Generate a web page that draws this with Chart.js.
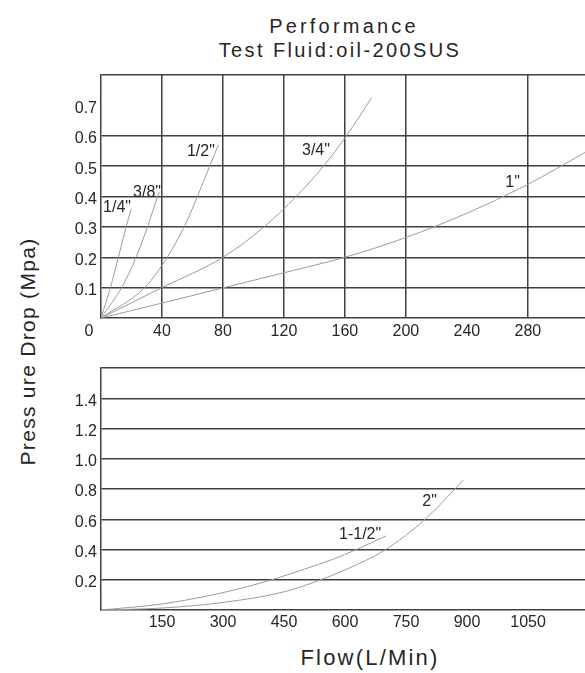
<!DOCTYPE html>
<html>
<head>
<meta charset="utf-8">
<script src="https://cdn.jsdelivr.net/npm/chart.js@4.4.1/dist/chart.umd.min.js"></script>
<style>
html,body{margin:0;padding:0;background:#fff;width:585px;height:673px;overflow:hidden}
.t{position:absolute;font-family:"Liberation Sans",Arial,sans-serif;color:#262626;text-align:center;white-space:nowrap}
canvas{position:absolute;left:0}
</style>
</head>
<body>
<div class="t" style="left:194px;top:16px;width:300px;font-size:20px;line-height:20px;letter-spacing:3.2px">Performance</div>
<div class="t" style="left:190px;top:40px;width:300px;font-size:20px;line-height:20px;letter-spacing:2.4px">Test Fluid:oil-200SUS</div>
<div class="t" style="left:-123px;top:341px;width:300px;height:21px;font-size:21px;line-height:21px;letter-spacing:1.3px;transform:rotate(-90deg)">Press ure Drop (Mpa)</div>
<div class="t" style="left:220px;top:647px;width:300px;font-size:22px;line-height:22px;letter-spacing:2.2px">Flow(L/Min)</div>
<canvas id="c1" width="585" height="290" style="top:60px"></canvas>
<canvas id="c2" width="585" height="290" style="top:350px"></canvas>
<script>
// ---------- tick values / labels ----------
const topXTicks = [0, 40, 80, 120, 160, 200, 240, 280];
const topXGridShown = [40, 80, 120, 160, 200, 280];
const topYTicks = [0, 0.1, 0.2, 0.3, 0.4, 0.5, 0.6, 0.7, 0.8];
const topYLabels = ['', '0.1', '0.2', '0.3', '0.4', '0.5', '0.6', '0.7', ''];
const topYGridHidden = [0.7];
const bottomXTicks = [0, 150, 300, 450, 600, 750, 900, 1050];
const bottomXLabels = ['', '150', '300', '450', '600', '750', '900', '1050'];
const bottomYTicks = [0, 0.2, 0.4, 0.6, 0.8, 1.0, 1.2, 1.4, 1.6];
const bottomYLabels = ['', '0.2', '0.4', '0.6', '0.8', '1.0', '1.2', '1.4', ''];

// ---------- series (flow L/Min, pressure drop MPa) ----------
const seriesNames = ['1/4"', '3/8"', '1/2"', '3/4"', '1"'];
const flowQuarter   = [0, 6.2, 11.4, 16.5, 19.8];
const dropQuarter   = [0, 0.1, 0.2, 0.3, 0.36];
const flowThreeEighth = [0, 13.5, 23, 30.5, 37.1, 38.2];
const dropThreeEighth = [0, 0.1, 0.2, 0.3, 0.4, 0.415];
const flowHalf      = [0, 28.6, 43.5, 54.5, 63.3, 71.3, 77];
const dropHalf      = [0, 0.1, 0.2, 0.3, 0.4, 0.5, 0.57];
const flowThreeQuarter = [0, 40, 80, 107, 128, 146, 161, 177.5];
const dropThreeQuarter = [0, 0.1, 0.2, 0.3, 0.4, 0.5, 0.6, 0.725];
const flowOne       = [0, 40, 80, 120, 160, 200, 240, 280, 317.5];
const dropOne       = [0, 0.049, 0.099, 0.149, 0.2, 0.265, 0.345, 0.44, 0.545];

const bigNames = ['1-1/2"', '2"'];
const flowOneHalf   = [0, 150, 300, 420, 500, 570, 628, 701];
const dropOneHalf   = [0, 0.04, 0.115, 0.2, 0.27, 0.335, 0.4, 0.49];
const flowTwo       = [0, 150, 300, 450, 540, 600, 700, 797, 870, 891];
const dropTwo       = [0, 0.013, 0.05, 0.12, 0.2, 0.265, 0.4, 0.6, 0.8, 0.86];

// ---------- curve label anchors (data units) ----------
const topLabelText = ['1/4"', '3/8"', '1/2"', '3/4"', '1"'];
const topLabelFlow = [10.5, 30.2, 65.5, 141, 270];
const topLabelDrop = [0.364, 0.412, 0.547, 0.55, 0.446];
const bottomLabelText = ['1-1/2"', '2"'];
const bottomLabelFlow = [637, 808];
const bottomLabelDrop = [0.496, 0.714];

// ---------- helpers ----------
const FONT = '"Liberation Sans", Arial, sans-serif';
const TEXT = '#262626';
const GRID = '#404040';
const CURVE = '#9c9c9c';
const near = (a, b) => Math.abs(a - b) < 1e-6;
const pts = (xs, ys) => xs.map((x, i) => ({x: x, y: ys[i]}));
const curve = (name, xs, ys) => ({
  label: name, data: pts(xs, ys), borderColor: CURVE, borderWidth: 1,
  pointRadius: 0, fill: false, cubicInterpolationMode: 'monotone'
});

const curveLabels = {
  id: 'curveLabels',
  afterDatasetsDraw(chart, args, opts) {
    const ctx = chart.ctx, xs = chart.scales.x, ys = chart.scales.y;
    ctx.save();
    ctx.font = '16px ' + FONT;
    ctx.fillStyle = TEXT;
    ctx.textAlign = 'center';
    ctx.textBaseline = 'middle';
    opts.text.forEach((t, i) => {
      ctx.fillText(t, xs.getPixelForValue(opts.flow[i]), ys.getPixelForValue(opts.drop[i]));
    });
    ctx.restore();
  }
};

Chart.defaults.font.family = FONT;
Chart.defaults.color = TEXT;

// ---------- top chart ----------
new Chart(document.getElementById('c1'), {
  type: 'line',
  data: {
    datasets: [
      curve(seriesNames[0], flowQuarter, dropQuarter),
      curve(seriesNames[1], flowThreeEighth, dropThreeEighth),
      curve(seriesNames[2], flowHalf, dropHalf),
      curve(seriesNames[3], flowThreeQuarter, dropThreeQuarter),
      curve(seriesNames[4], flowOne, dropOne)
    ]
  },
  plugins: [curveLabels],
  options: {
    responsive: false, animation: false, devicePixelRatio: 1,
    layout: {padding: {top: 15, left: 0, right: 0, bottom: 0}},
    plugins: {
      legend: {display: false}, tooltip: {enabled: false},
      curveLabels: {text: topLabelText, flow: topLabelFlow, drop: topLabelDrop}
    },
    scales: {
      x: {
        type: 'linear', min: 0, max: 317.5,
        afterBuildTicks: s => { s.ticks = topXTicks.map(v => ({value: v})); },
        afterFit: s => { s.height = 32; },
        grid: {drawTicks: false, lineWidth: 1.5,
          color: c => (c.tick && topXGridShown.some(v => near(v, c.tick.value))) ? GRID : 'rgba(0,0,0,0)'},
        border: {display: true, color: GRID, width: 1.5},
        ticks: {padding: 4, autoSkip: false, maxRotation: 0, font: {size: 16}, color: TEXT,
          callback: v => { const i = topXTicks.findIndex(t => near(t, v)); return i < 0 ? '' : (v === 0 ? String(topXTicks[i]) + '\u2003\u2002' : String(topXTicks[i])); }}
      },
      y: {
        type: 'linear', min: 0, max: 0.8,
        afterBuildTicks: s => { s.ticks = topYTicks.map(v => ({value: v})); },
        afterFit: s => { s.width = 101; },
        grid: {drawTicks: false, lineWidth: 1.5,
          color: c => (c.tick && c.tick.value > 0 && !topYGridHidden.some(v => near(v, c.tick.value))) ? GRID : 'rgba(0,0,0,0)'},
        border: {display: true, color: GRID, width: 1.5},
        ticks: {padding: 4, labelOffset: 3, autoSkip: false, font: {size: 16}, color: TEXT,
          callback: v => { const i = topYTicks.findIndex(t => near(t, v)); return i < 0 ? '' : topYLabels[i]; }}
      }
    }
  }
});

// ---------- bottom chart ----------
new Chart(document.getElementById('c2'), {
  type: 'line',
  data: {
    datasets: [
      curve(bigNames[0], flowOneHalf, dropOneHalf),
      curve(bigNames[1], flowTwo, dropTwo)
    ]
  },
  plugins: [curveLabels],
  options: {
    responsive: false, animation: false, devicePixelRatio: 1,
    layout: {padding: {top: 18, left: 0, right: 0, bottom: 0}},
    plugins: {
      legend: {display: false}, tooltip: {enabled: false},
      curveLabels: {text: bottomLabelText, flow: bottomLabelFlow, drop: bottomLabelDrop}
    },
    scales: {
      x: {
        type: 'linear', min: 0, max: 1190,
        afterBuildTicks: s => { s.ticks = bottomXTicks.map(v => ({value: v})); },
        afterFit: s => { s.height = 30; },
        grid: {drawTicks: false, color: 'rgba(0,0,0,0)'},
        border: {display: true, color: GRID, width: 1.5},
        ticks: {padding: 3, autoSkip: false, maxRotation: 0, font: {size: 16}, color: TEXT,
          callback: v => { const i = bottomXTicks.findIndex(t => near(t, v)); return i < 0 ? '' : bottomXLabels[i]; }}
      },
      y: {
        type: 'linear', min: 0, max: 1.6,
        afterBuildTicks: s => { s.ticks = bottomYTicks.map(v => ({value: v})); },
        afterFit: s => { s.width = 101; },
        grid: {drawTicks: false, lineWidth: 1.5,
          color: c => (c.tick && c.tick.value > 0) ? GRID : 'rgba(0,0,0,0)'},
        border: {display: true, color: GRID, width: 1.5},
        ticks: {padding: 4, labelOffset: 3, autoSkip: false, font: {size: 16}, color: TEXT,
          callback: v => { const i = bottomYTicks.findIndex(t => near(t, v)); return i < 0 ? '' : bottomYLabels[i]; }}
      }
    }
  }
});
</script>
</body>
</html>
